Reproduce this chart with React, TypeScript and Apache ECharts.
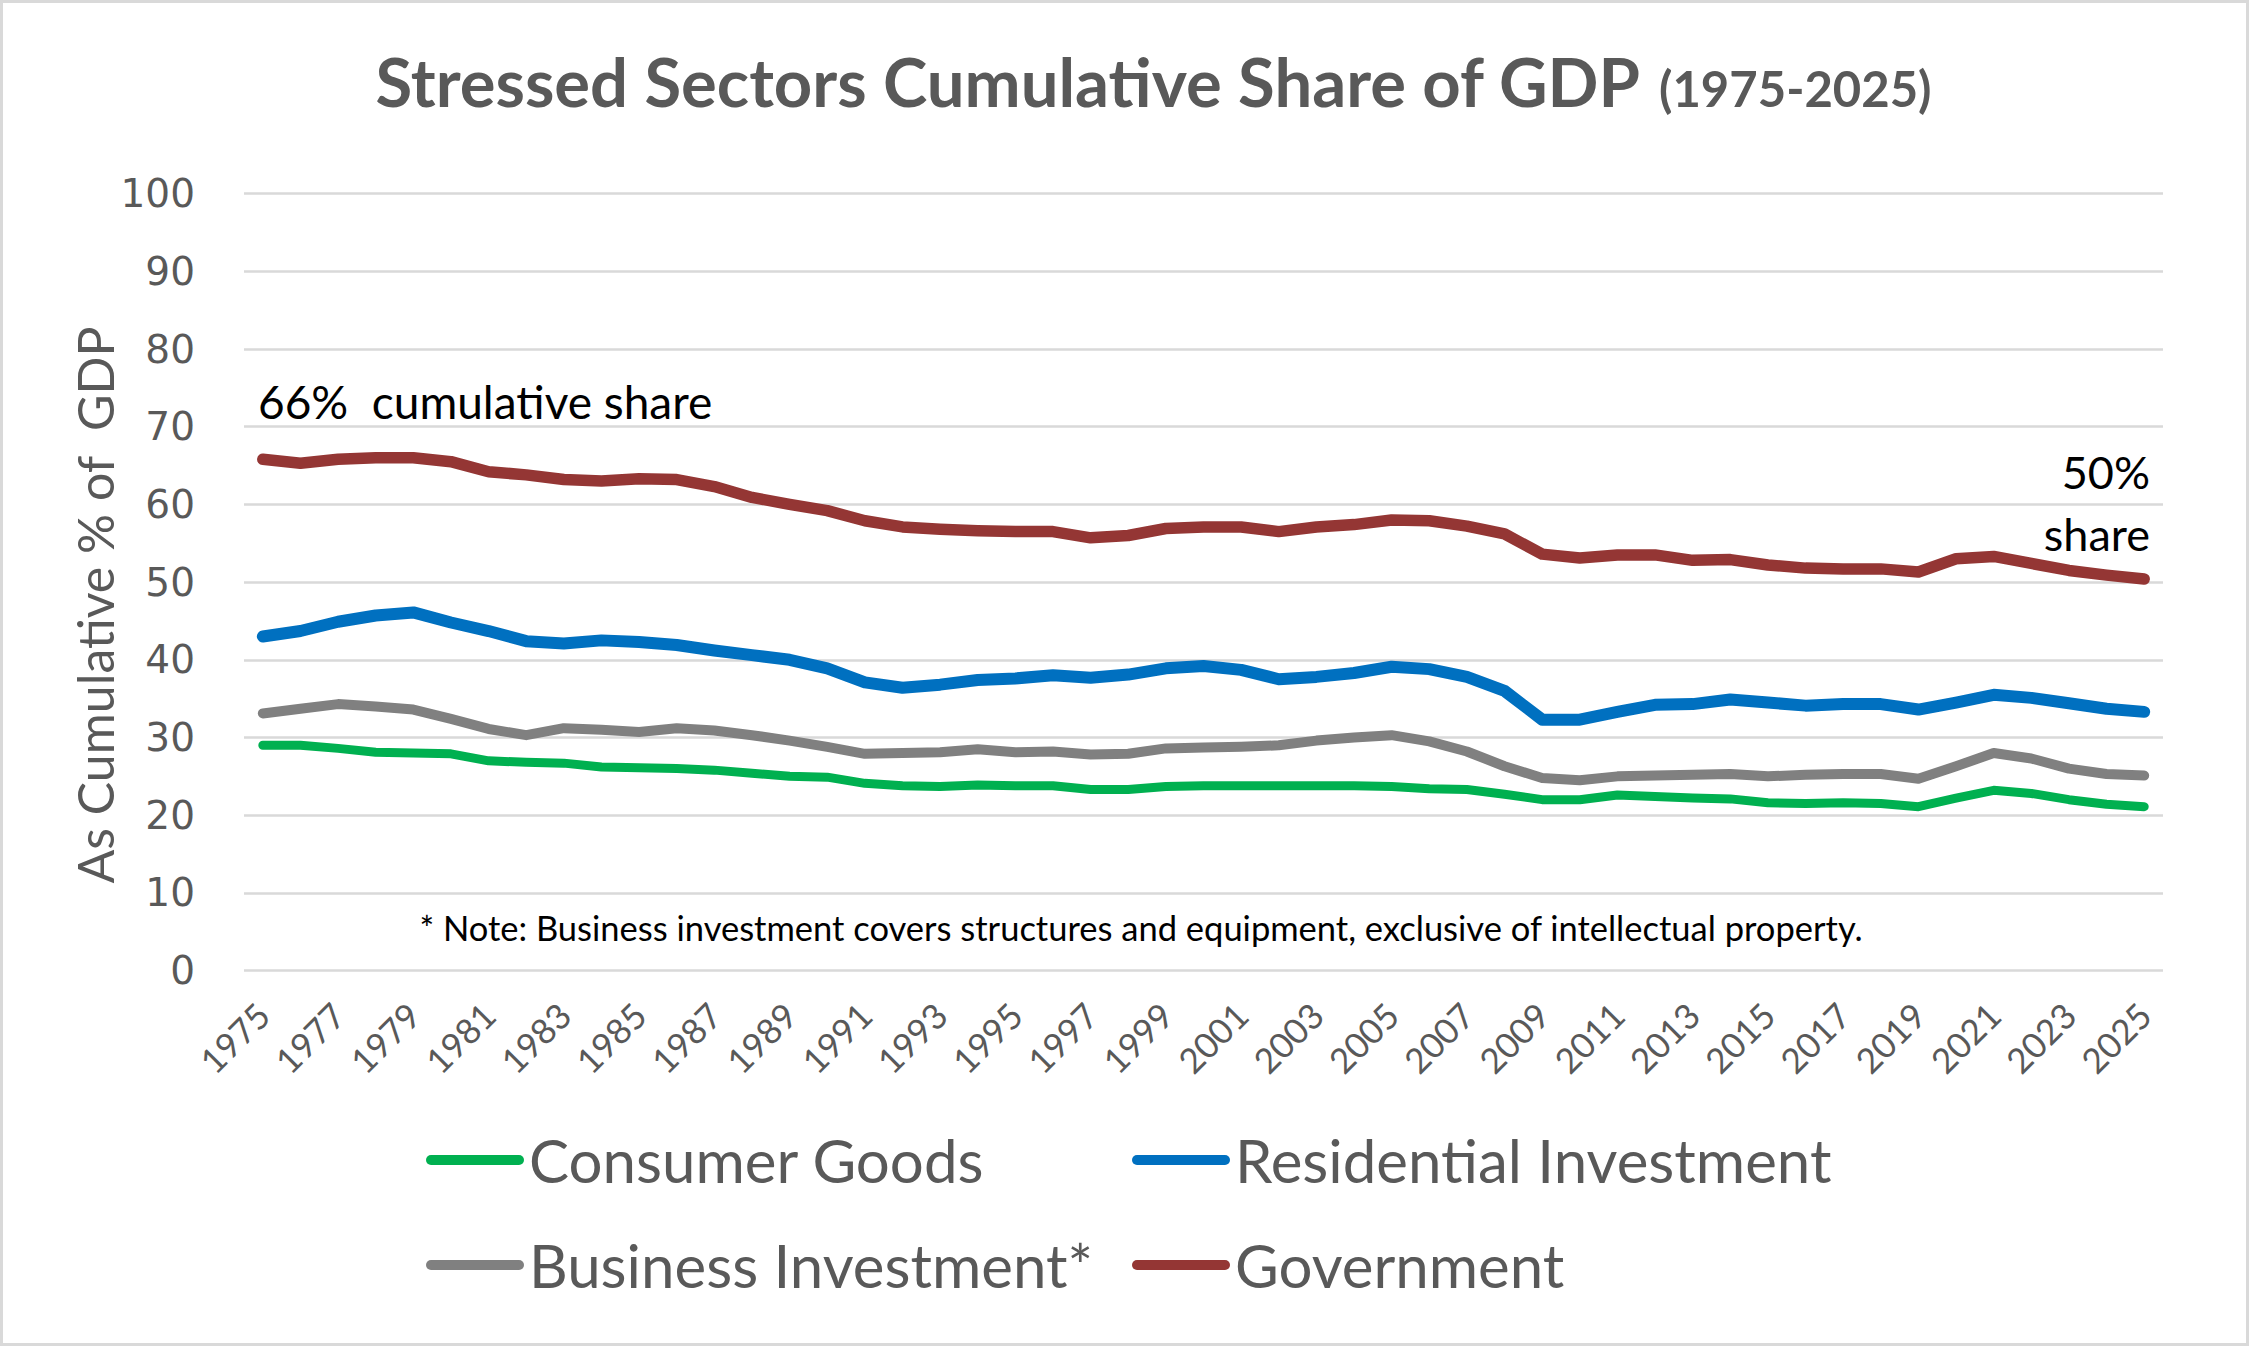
import React, { useEffect, useRef } from "react";
import * as echarts from "echarts";

const years = [
  "1975","1976","1977","1978","1979","1980","1981","1982","1983","1984",
  "1985","1986","1987","1988","1989","1990","1991","1992","1993","1994",
  "1995","1996","1997","1998","1999","2000","2001","2002","2003","2004",
  "2005","2006","2007","2008","2009","2010","2011","2012","2013","2014",
  "2015","2016","2017","2018","2019","2020","2021","2022","2023","2024",
  "2025",
];

const consumerGoods = [
  29.0, 29.0, 28.6, 28.1, 28.0, 27.9, 27.0, 26.8, 26.7, 26.2,
  26.1, 26.0, 25.8, 25.4, 25.0, 24.9, 24.1, 23.8, 23.7, 23.9,
  23.8, 23.8, 23.3, 23.3, 23.7, 23.8, 23.8, 23.8, 23.8, 23.8,
  23.7, 23.4, 23.3, 22.7, 22.0, 22.0, 22.6, 22.4, 22.2, 22.1,
  21.6, 21.5, 21.6, 21.5, 21.1, 22.2, 23.2, 22.8, 22.0, 21.4,
  21.1,
];

const residentialInvestment = [
  43.0, 43.7, 44.9, 45.7, 46.1, 44.8, 43.7, 42.4, 42.1, 42.5,
  42.3, 41.9, 41.2, 40.6, 40.0, 38.9, 37.1, 36.4, 36.8, 37.4,
  37.6, 38.0, 37.7, 38.1, 38.9, 39.2, 38.7, 37.5, 37.8, 38.3,
  39.1, 38.8, 37.8, 36.0, 32.3, 32.3, 33.3, 34.2, 34.3, 34.9,
  34.5, 34.1, 34.3, 34.3, 33.6, 34.5, 35.5, 35.1, 34.4, 33.7,
  33.3,
];

const businessInvestment = [
  33.1, 33.7, 34.3, 34.0, 33.6, 32.4, 31.1, 30.3, 31.2, 31.0,
  30.7, 31.2, 30.9, 30.3, 29.6, 28.8, 27.9, 28.0, 28.1, 28.5,
  28.1, 28.2, 27.8, 27.9, 28.6, 28.7, 28.8, 29.0, 29.6, 30.0,
  30.3, 29.5, 28.2, 26.3, 24.8, 24.5, 25.0, 25.1, 25.2, 25.3,
  25.0, 25.2, 25.3, 25.3, 24.7, 26.3, 28.0, 27.3, 26.0, 25.3,
  25.1,
];

const government = [
  65.8, 65.3, 65.8, 66.0, 66.0, 65.5, 64.2, 63.8, 63.2, 63.0,
  63.3, 63.2, 62.3, 60.9, 60.0, 59.2, 57.9, 57.1, 56.8, 56.6,
  56.5, 56.5, 55.7, 56.0, 56.9, 57.1, 57.1, 56.5, 57.1, 57.4,
  58.0, 57.9, 57.2, 56.2, 53.6, 53.1, 53.5, 53.5, 52.8, 52.9,
  52.2, 51.8, 51.7, 51.7, 51.3, 53.0, 53.3, 52.4, 51.5, 50.9,
  50.4,
];

const seriesNames = [
  "Consumer Goods",
  "Residential Investment",
  "Business Investment*",
  "Government",
];

const titleMain = "Stressed Sectors Cumulative Share of GDP";
const titleYears = "(1975-2025)";
const yAxisTitle = "As Cumulative % of  GDP";
const startNote = "66%  cumulative share";
const endNoteLines = ["50%", "share"];
const footNote =
  "* Note: Business investment covers structures and equipment, exclusive of intellectual property.";

const GREEN = "#00B050";
const BLUE = "#0070C0";
const GRAY = "#808080";
const RED = "#943634";
const TEXT_GRAY = "#595959";
const FONT = "Lato";

const capsule = "path://M5,0 L93,0 A5,5 0 0 1 93,10 L5,10 A5,5 0 0 1 5,0 Z";

function txt(x: number, y: number, text: string, size: number, color: string, align: string, extra: any = {}) {
  return {
    type: "text",
    x,
    y,
    silent: true,
    ...extra,
    style: {
      text,
      fontFamily: FONT,
      fontSize: size,
      fontWeight: extra.weight || "normal",
      fill: color,
      align,
      verticalAlign: "middle",
      textAlign: align,
      textVerticalAlign: "middle",
    },
  };
}

function legendAt(name: string, left: number, top: number) {
  return {
    data: [name],
    left,
    top,
    orient: "horizontal",
    icon: capsule,
    itemWidth: 98,
    itemHeight: 11,
    selectedMode: false,
    textStyle: { fontFamily: FONT, fontSize: 60, color: TEXT_GRAY },
  };
}

export default function App() {
  const ref = useRef<HTMLDivElement>(null);

  useEffect(() => {
    document.body.style.margin = "0";
    const chart = echarts.init(ref.current!, null, { renderer: "svg" });
    const mkSeries = (name: string, data: number[], color: string, width: number) => ({
      name,
      type: "line",
      data,
      color,
      symbol: "none",
      itemStyle: { color },
      lineStyle: { color, width, cap: "round", join: "round" },
      emphasis: { disabled: true },
    });
    chart.setOption({
      animation: false,
      backgroundColor: "#ffffff",
      grid: { left: 244, right: 86, top: 193.6, bottom: 375.4, containLabel: false },
      xAxis: {
        type: "category",
        data: years,
        boundaryGap: true,
        axisLine: { show: false },
        axisTick: { show: false },
        splitLine: { show: false },
        axisLabel: {
          interval: 1,
          rotate: 45,
          fontFamily: FONT,
          fontSize: 35,
          color: TEXT_GRAY,
          margin: 38,
        },
      },
      yAxis: {
        type: "value",
        min: 0,
        max: 100,
        interval: 10,
        axisLine: { show: false },
        axisTick: { show: false },
        splitLine: { lineStyle: { color: "#d9d9d9", width: 2.5 } },
        axisLabel: {
          fontFamily: "DejaVu Sans",
          fontSize: 39,
          color: TEXT_GRAY,
          margin: 49,
        },
      },
      legend: [
        legendAt(seriesNames[0], 421, 1125),
        legendAt(seriesNames[1], 1127, 1125),
        legendAt(seriesNames[2], 421, 1230),
        legendAt(seriesNames[3], 1127, 1230),
      ],
      series: [
        mkSeries(seriesNames[0], consumerGoods, GREEN, 9),
        mkSeries(seriesNames[1], residentialInvestment, BLUE, 12),
        mkSeries(seriesNames[2], businessInvestment, GRAY, 10),
        mkSeries(seriesNames[3], government, RED, 11.5),
      ],
      graphic: [
        {
          type: "rect",
          silent: true,
          shape: { x: 1.5, y: 1.5, width: 2246, height: 1343 },
          style: { fill: "none", stroke: "#d9d9d9", lineWidth: 3 },
        },
        txt(1640, 81, titleMain, 67, TEXT_GRAY, "right", { weight: "bold" }),
        txt(1659, 88, titleYears, 49, TEXT_GRAY, "left", { weight: "bold" }),
        txt(95, 605, yAxisTitle, 50, TEXT_GRAY, "center", { rotation: Math.PI / 2 }),
        txt(258, 401, startNote, 46, "#000000", "left"),
        txt(2150, 472, endNoteLines[0], 45, "#000000", "right"),
        txt(2150, 534, endNoteLines[1], 45, "#000000", "right"),
        txt(1141, 927, footNote, 34.5, "#000000", "center"),
      ],
    });
    return () => chart.dispose();
  }, []);

  return (
    <div
      ref={ref}
      style={{ position: "fixed", left: 0, top: 0, width: 2249, height: 1346, background: "#fff" }}
    />
  );
}
